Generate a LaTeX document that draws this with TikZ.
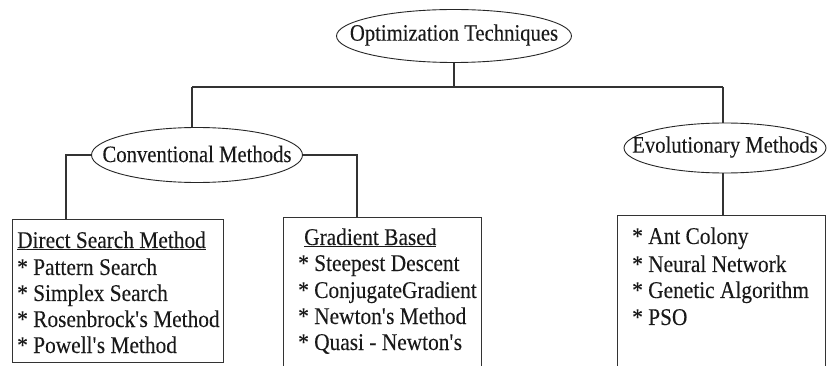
\documentclass[tikz,border=0pt]{standalone}
\usepackage{fontspec}
\setmainfont[FakeStretch=0.89,FakeBold=0.1]{Liberation Serif}
\newfontfamily\ovalfont[FakeStretch=0.88,FakeBold=0.1]{Liberation Serif}
\usetikzlibrary{shapes.geometric}

\begin{document}
\begin{tikzpicture}[x=1pt,y=-1pt,
  oval/.style={draw=black!85, line width=0.9pt, ellipse, inner sep=0pt},
  ovaltext/.style={inner sep=0pt, font=\ovalfont\fontsize{23.5}{27}\selectfont, text=black!90},
  frame/.style={draw=black!80, line width=1.3pt, rectangle, anchor=north west, inner sep=0pt},
  item/.style={anchor=base west, inner sep=0pt, font=\fontsize{24}{27}\selectfont, text=black!90},
  wire/.style={draw=black!80, line width=1.3pt}]

\clip (0,0) rectangle (828,366);
\fill[white] (0,0) rectangle (828,366);

% ovals, each with its caption set on top
\node[oval, minimum width=235pt, minimum height=53pt] (top)  at (454,36)  {};
\node[oval, minimum width=211pt, minimum height=55pt] (conv) at (197,155) {};
\node[oval, minimum width=202pt, minimum height=50pt] (evo)  at (725,148) {};
\node[ovaltext] (topt)  at ([yshift=1pt]top.center)  {Optimization Techniques};
\node[ovaltext] (convt) at ([yshift=1pt]conv.center) {Conventional Methods};
\node[ovaltext] (evot)  at ([yshift=1pt]evo.center)  {Evolutionary Methods};

% boxes
\node[frame, minimum width=211pt, minimum height=143pt] (dbox) at (12,219)  {};
\node[frame, minimum width=198pt, minimum height=160pt] (gbox) at (283,217) {};
\node[frame, minimum width=208pt, minimum height=160pt] (ebox) at (617,215) {};

% connectors
\coordinate (jt) at (454,87);
\coordinate (busL) at (192,87);
\coordinate (busR) at (723,87);
\coordinate (dtop) at (66,219);
\coordinate (gtop) at (357,217);
\draw[wire] (top.south) -- (jt);
\draw[wire] (busL) -- (busR);
\draw[wire] (busL) -- (busL |- conv.north);
\draw[wire] (busR) -- (busR |- evo.north);
\draw[wire] (conv.west) -| (dtop);
\draw[wire] (conv.east) -| (gtop);
\draw[wire] (busR |- evo.south) -- (busR |- ebox.north);

% direct search list
\node[item] (d0) at (17,248) {\underline{Direct Search Method}};
\node[item] (d1) at (17,275) {* Pattern Search};
\node[item] (d2) at (17,301) {* Simplex Search};
\node[item] (d3) at (17,327) {* Rosenbrock\textquotesingle s Method};
\node[item] (d4) at (17,353) {* Powell\textquotesingle s Method};

% gradient based list
\node[item] (g0) at (304,245) {\underline{Gradient Based}};
\node[item] (g1) at (298,271) {* Steepest Descent};
\node[item] (g2) at (298,298) {* ConjugateGradient};
\node[item] (g3) at (298,324) {* Newton\textquotesingle s Method};
\node[item] (g4) at (298,350) {* Quasi - Newton\textquotesingle s};

% evolutionary list
\node[item] (e1) at (632,244) {* Ant Colony};
\node[item] (e2) at (632,272) {* Neural Network};
\node[item] (e3) at (632,298) {* Genetic Algorithm};
\node[item] (e4) at (632,325) {* PSO};
\end{tikzpicture}
\end{document}
